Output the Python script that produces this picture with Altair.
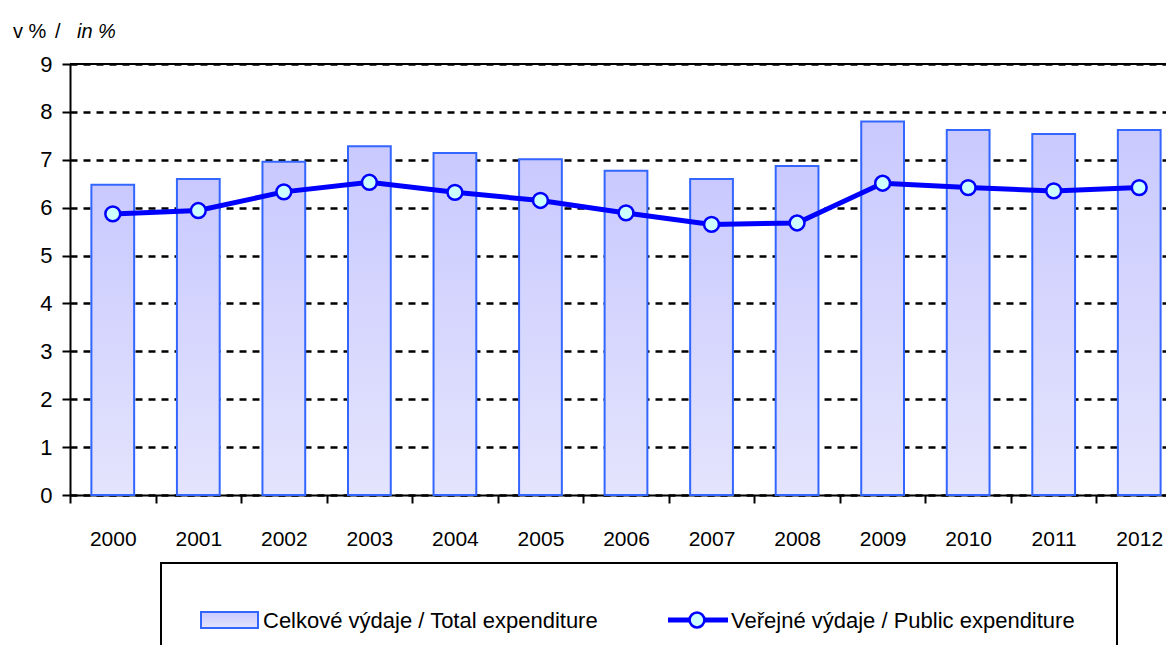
import altair as alt
import pandas as pd

years = ["2000", "2001", "2002", "2003", "2004", "2005", "2006",
         "2007", "2008", "2009", "2010", "2011", "2012"]
total_exp = [6.48, 6.60, 6.96, 7.28, 7.14, 7.01, 6.77, 6.60, 6.87, 7.80, 7.62, 7.54, 7.62]
public_exp = [5.87, 5.94, 6.33, 6.53, 6.32, 6.15, 5.89, 5.65, 5.68, 6.51, 6.42, 6.35, 6.42]
y_ticks = [0, 1, 2, 3, 4, 5, 6, 7, 8, 9]

label_total = "Celkové výdaje / Total expenditure"
label_public = "Veřejné výdaje / Public expenditure"

df = pd.DataFrame({"year": years, "total": total_exp, "public": public_exp})
one = alt.Data(values=[{}])

FONT = "Liberation Sans"
BLUE = "#0000ff"
BAR_STROKE = "#3366ff"
grad = alt.LinearGradient(
    gradient="linear",
    stops=[alt.GradientStop(color="#c9c9ff", offset=0),
           alt.GradientStop(color="#e4e4fd", offset=1)],
    x1=0, x2=0, y1=0, y2=1,
)

X_RANGE = 1112
half_step = X_RANGE / len(years) / 2

x_enc = alt.X(
    "year:N",
    sort=years,
    scale=alt.Scale(range=[0, X_RANGE], paddingInner=0.5, paddingOuter=0.25),
    axis=alt.Axis(
        title=None, labelAngle=0,
        tickOffset=-half_step, labelOffset=half_step,
        domainColor="black", domainWidth=2,
        tickColor="black", tickWidth=2, tickSize=8,
        labelFont=FONT, labelFontSize=21, labelColor="black",
        labelPadding=25, grid=False,
    ),
)
y_scale = alt.Scale(domain=[0, 9], nice=False)
y_axis = alt.Axis(
    title=None, values=y_ticks, format="d",
    domainColor="black", domainWidth=2,
    tickColor="black", tickWidth=2, tickSize=8,
    labelFont=FONT, labelFontSize=22, labelColor="black", labelPadding=10,
    grid=True, gridColor="black", gridDash=[7, 6], gridWidth=2.5,
)

base = alt.Chart(df)

bars = base.mark_bar(fill=grad, stroke=BAR_STROKE, strokeWidth=2).encode(
    x=x_enc,
    y=alt.Y("total:Q", scale=y_scale, axis=y_axis),
)
line = base.mark_line(color=BLUE, strokeWidth=5).encode(
    x=alt.X("year:N", sort=years),
    y=alt.Y("public:Q"),
)
points = base.mark_point(
    shape="circle", filled=True, fill="#ccffff", stroke=BLUE,
    strokeWidth=2.5, size=220, opacity=1,
).encode(
    x=alt.X("year:N", sort=years),
    y=alt.Y("public:Q"),
)
top_rule = alt.Chart(one).mark_rule(color="black", strokeWidth=2).encode(
    y=alt.datum(9)
)

def txt(s, x, y, size=20, style="normal"):
    return alt.Chart(one).mark_text(
        text=s, font=FONT, fontSize=size, fontStyle=style, align="left",
        baseline="middle", color="black"
    ).encode(x=alt.value(x), y=alt.value(y))

yt1 = txt("v %", -57, -32)
yt2 = txt("/", -15, -32)
yt3 = txt("in %", 7, -32, style="italic")

leg_box = alt.Chart(one).mark_rect(fill="white", stroke="black", strokeWidth=2).encode(
    x=alt.value(91), x2=alt.value(1047), y=alt.value(499), y2=alt.value(700)
)
leg_rect = alt.Chart(one).mark_rect(fill=grad, stroke=BAR_STROKE, strokeWidth=2).encode(
    x=alt.value(131), x2=alt.value(188), y=alt.value(548), y2=alt.value(564)
)
leg_t1 = txt(label_total, 193, 557, size=22)
leg_line = alt.Chart(one).mark_rule(color=BLUE, strokeWidth=5).encode(
    x=alt.value(598), x2=alt.value(658), y=alt.value(556)
)
leg_pt = alt.Chart(one).mark_point(
    shape="circle", filled=True, fill="#ccffff", stroke=BLUE,
    strokeWidth=2.5, size=220, opacity=1,
).encode(x=alt.value(627), y=alt.value(556))
leg_t2 = txt(label_public, 661, 557, size=22)

chart = alt.layer(
    bars, line, points, top_rule, yt1, yt2, yt3,
    leg_box, leg_rect, leg_t1, leg_line, leg_pt, leg_t2,
).properties(
    width=1096, height=431,
    autosize=alt.AutoSizeParams(type="none"),
    padding={"left": 62, "top": 56, "right": 0, "bottom": 150},
).configure_view(stroke=None).configure(font=FONT, background="white")

chart.save("out.html", embed_options={"renderer": "svg", "actions": False})
